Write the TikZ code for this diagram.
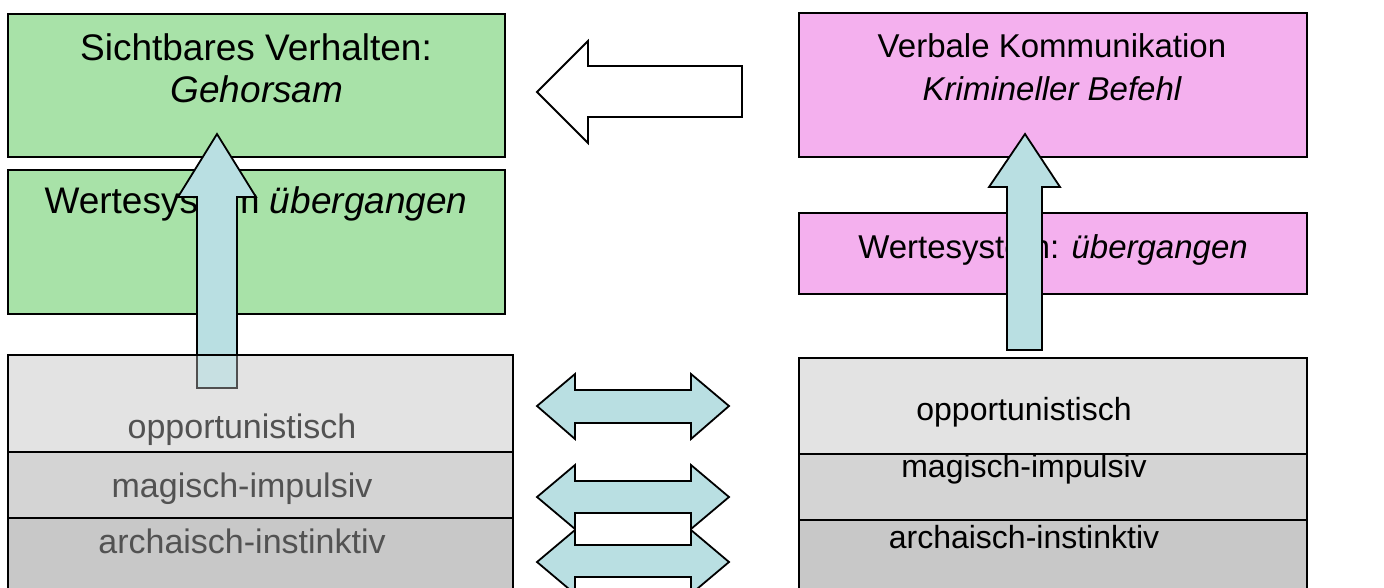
\documentclass[tikz,border=0pt]{standalone}
\usepackage{fontspec}
\setmainfont{Liberation Sans}
\begin{document}
\begin{tikzpicture}[x=1pt,y=-1pt]
\definecolor{greenbox}{HTML}{A8E2A8}
\definecolor{pinkbox}{HTML}{F4B0EE}
\definecolor{lvA}{HTML}{E3E3E3}
\definecolor{lvB}{HTML}{D4D4D4}
\definecolor{lvC}{HTML}{C8C8C8}
\definecolor{arrowblue}{HTML}{B9DFE2}
\tikzset{
  box/.style={draw=black, line width=2pt, anchor=north west, inner sep=0pt, outer sep=0pt},
  blockarrow/.style={draw=black, line width=1.8pt, line join=miter, fill=arrowblue},
  bigtxt/.style={anchor=base, inner sep=0pt, font=\fontsize{37}{44}\selectfont},
  midtxt/.style={anchor=base, inner sep=0pt, font=\fontsize{33}{40}\selectfont},
  lvltxtL/.style={anchor=base, inner sep=0pt, text=black!68, font=\fontsize{34}{40}\selectfont},
  lvltxtR/.style={anchor=base, inner sep=0pt, font=\fontsize{32}{38}\selectfont},
}
\useasboundingbox (0,0) rectangle (1384,587);
\clip (0,0) rectangle (1384,587);

% ---------- left column ----------
\node[box, fill=greenbox, minimum width=497pt, minimum height=143pt] (gtop) at (8,14) {};
\node[box, fill=greenbox, minimum width=497pt, minimum height=144pt] (gval) at (8,170) {};
\node[bigtxt] (gt1) at (256,60) {Sichtbares Verhalten:};
\node[bigtxt] (gt2) at (257,102) {\itshape Gehorsam};
\node[bigtxt] (gv1) at (256,213) {Wertesystem \itshape übergangen};

\node[box, draw=none, fill=lvA, minimum width=505pt, minimum height=97pt] (lA) at (8,355) {};
\node[box, fill=lvB, minimum width=505pt, minimum height=66pt] (lB) at (8,452) {};
\node[box, fill=lvC, minimum width=505pt, minimum height=90pt] (lC) at (8,518) {};

% left up arrow
\draw[blockarrow] (217,134) -- (256,197) -- (237,197) -- (237,388) -- (197,388) -- (197,197) -- (178,197) -- cycle;
% translucent overlay of the opportunistic level
\fill[lvA, fill opacity=0.35] (8,355) rectangle (513,452);
\draw[line width=2pt] (8,355) rectangle (513,452);

\node[lvltxtL] (lAt) at (242,438) {opportunistisch};
\node[lvltxtL] (lBt) at (242,497) {magisch-impulsiv};
\node[lvltxtL] (lCt) at (242,553) {archaisch-instinktiv};

% ---------- right column ----------
\node[box, fill=pinkbox, minimum width=508pt, minimum height=144pt] (ptop) at (799,13) {};
\node[box, fill=pinkbox, minimum width=508pt, minimum height=81pt] (pval) at (799,213) {};
\node[midtxt] (pt1) at (1052,57) {Verbale Kommunikation};
\node[midtxt] (pt2) at (1052,100) {\itshape Krimineller Befehl};
\node[midtxt] (pv1) at (1053,258) {Wertesystem: \itshape übergangen};

\node[box, fill=lvA, minimum width=508pt, minimum height=96pt] (rA) at (799,358) {};
\node[box, fill=lvB, minimum width=508pt, minimum height=66pt] (rB) at (799,454) {};
\node[box, fill=lvC, minimum width=508pt, minimum height=90pt] (rC) at (799,520) {};
\node[lvltxtR] (rAt) at (1024,420) {opportunistisch};
\node[lvltxtR] (rBt) at (1024,477) {magisch-impulsiv};
\node[lvltxtR] (rCt) at (1024,548) {archaisch-instinktiv};

% right up arrow
\draw[blockarrow] (1025,134) -- (1060,187) -- (1042,187) -- (1042,350) -- (1007,350) -- (1007,187) -- (989,187) -- cycle;

% ---------- middle arrows ----------
\draw[blockarrow, fill=white] (537,92) -- (588,41) -- (588,66) -- (742,66) -- (742,117) -- (588,117) -- (588,143) -- cycle;

\draw[blockarrow] (537,406) -- (575,374) -- (575,390) -- (691,390) -- (691,374) -- (729,406) -- (691,439) -- (691,423) -- (575,423) -- (575,439) -- cycle;
\draw[blockarrow] (537,497) -- (575,465) -- (575,481) -- (691,481) -- (691,465) -- (729,497) -- (691,529) -- (691,513) -- (575,513) -- (575,529) -- cycle;
\draw[blockarrow] (537,562) -- (575,530) -- (575,545) -- (691,545) -- (691,530) -- (729,562) -- (691,594) -- (691,577) -- (575,577) -- (575,594) -- cycle;
\end{tikzpicture}
\end{document}
